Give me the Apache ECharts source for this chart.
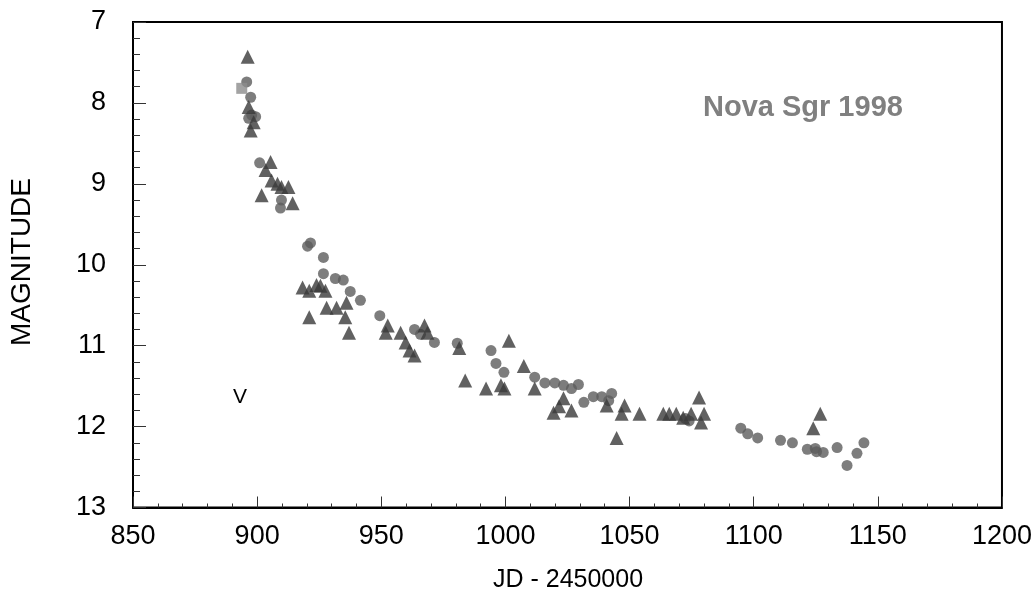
<!DOCTYPE html>
<html>
<head>
<meta charset="utf-8">
<script src="https://cdn.jsdelivr.net/npm/echarts@6/dist/echarts.min.js"></script>
<style>html,body{margin:0;padding:0;background:#fff}#c{width:1035px;height:599px}</style>
</head>
<body>
<div id="c"></div>
<script>
const triangles = [
  [896.2,7.43],[896.6,8.05],[898.6,8.24],[897.4,8.34],
  [905.4,8.73],[903.4,8.83],[905.8,8.96],[909.8,9.04],[912.6,9.04],[908.2,9.0],
  [901.8,9.14],[914.3,9.24],
  [918.3,10.28],[921.0,10.32],[923.9,10.25],[925.5,10.26],[927.5,10.32],
  [928.0,10.53],[932.0,10.53],[936.0,10.47],[935.5,10.65],[921.0,10.65],[937.0,10.84],
  [952.6,10.75],[951.8,10.84],[957.8,10.84],[959.8,10.96],[961.4,11.06],[963.4,11.12],
  [967.4,10.75],[968.6,10.84],[981.4,11.03],
  [1001.4,10.94],[1007.4,11.25],[983.8,11.43],[992.2,11.53],[998.2,11.49],[999.6,11.53],
  [1011.8,11.53],[1023.4,11.65],[1019.4,11.83],[1026.6,11.80],[1021.6,11.75],
  [1040.8,11.74],[1048.0,11.74],[1046.8,11.84],[1054.0,11.84],[1044.8,12.14],
  [1063.6,11.84],[1066.0,11.84],[1068.8,11.84],[1071.6,11.89],[1074.8,11.84],
  [1080.0,11.84],[1078.8,11.95],[1078.0,11.64],
  [1126.8,11.84],[1124.0,12.02]
];
const circles = [
  [895.8,7.74],[897.4,7.93],[897.8,8.15],[896.6,8.19],[899.4,8.17],
  [901.0,8.74],[909.8,9.20],[909.4,9.30],
  [920.3,9.77],[921.5,9.73],[926.7,9.91],[926.7,10.11],[931.5,10.17],[934.7,10.19],
  [937.5,10.33],[941.6,10.44],[949.4,10.63],[963.4,10.80],[965.8,10.86],[971.4,10.96],
  [980.6,10.97],[994.2,11.06],[996.2,11.22],[999.4,11.33],
  [1011.8,11.39],[1015.9,11.46],[1019.9,11.46],[1023.4,11.49],[1026.6,11.53],[1029.4,11.48],
  [1031.6,11.70],[1035.4,11.63],[1038.8,11.63],[1042.8,11.59],[1041.6,11.68],
  [1074.0,11.93],[1072.5,11.90],
  [1094.8,12.02],[1097.6,12.09],[1101.6,12.14],[1110.8,12.17],[1115.6,12.20],
  [1121.6,12.28],[1124.8,12.27],[1128.0,12.32],[1125.3,12.31],[1133.6,12.26],
  [1137.6,12.48],[1141.6,12.33],[1144.4,12.20]
];
const squares = [[893.8,7.82]];
const xTicks = [850, 900, 950, 1000, 1050, 1100, 1150, 1200];
const yTicks = [7, 8, 9, 10, 11, 12, 13];
const title = 'Nova Sgr 1998';
const xTitle = 'JD - 2450000';
const yTitle = 'MAGNITUDE';
const bandLabel = 'V';

const FONT = '"Liberation Sans", Arial, sans-serif';
const chart = echarts.init(document.getElementById('c'), null, {renderer: 'canvas'});
chart.setOption({
  animation: false,
  backgroundColor: '#fff',
  grid: {left: 133, right: 27, top: 22, bottom: 91.5, show: true, borderColor: '#000', borderWidth: 2, backgroundColor: 'transparent'},
  xAxis: {
    type: 'value', min: xTicks[0], max: xTicks[xTicks.length-1], interval: 50,
    axisLine: {show: true, lineStyle: {color: '#000', width: 2}},
    axisTick: {show: true, inside: true, length: 11, lineStyle: {color: '#333', width: 1}},
    minorTick: {show: true, splitNumber: 5, length: 4, lineStyle: {color: '#333', width: 1}},
    splitLine: {show: false},
    axisLabel: {color: '#000', fontFamily: FONT, fontSize: 27, margin: 16, formatter: v => String(v)}
  },
  yAxis: {
    type: 'value', inverse: true, min: yTicks[0], max: yTicks[yTicks.length-1], interval: 1,
    axisLine: {show: true, lineStyle: {color: '#000', width: 2}},
    axisTick: {show: true, inside: true, length: 13, lineStyle: {color: '#333', width: 1}},
    minorTick: {show: true, splitNumber: 5, length: 7, lineStyle: {color: '#333', width: 1}},
    splitLine: {show: false},
    axisLabel: {color: '#000', fontFamily: FONT, fontSize: 27, margin: 27, formatter: v => String(v)}
  },
  series: [
    {type: 'scatter', data: circles, symbol: 'circle', symbolSize: 11,
     itemStyle: {color: '#5c5c5c'}},
    {type: 'scatter', data: triangles, symbol: 'triangle', symbolSize: [14, 14],
     itemStyle: {color: '#3a3a3a'}},
    {type: 'scatter', data: squares, symbol: 'rect', symbolSize: 11,
     itemStyle: {color: '#8c8c8c'}}
  ],
  graphic: [
    {type: 'text', x: 703, y: 108, style: {text: title, fill: '#808080', font: 'bold 29px ' + FONT, textAlign: 'left', textVerticalAlign: 'middle'}},
    {type: 'text', x: 22, y: 262, rotation: Math.PI/2,
     style: {text: yTitle, fill: '#000', font: '28px ' + FONT, textAlign: 'center', textVerticalAlign: 'middle'}},
    {type: 'text', x: 568, y: 580,
     style: {text: xTitle, fill: '#000', font: '25px ' + FONT, textAlign: 'center', textVerticalAlign: 'middle'}},
    {type: 'text', x: 240, y: 397,
     style: {text: bandLabel, fill: '#000', font: '21px ' + FONT, textAlign: 'center', textVerticalAlign: 'middle'}}
  ]
});
</script>
</body>
</html>
